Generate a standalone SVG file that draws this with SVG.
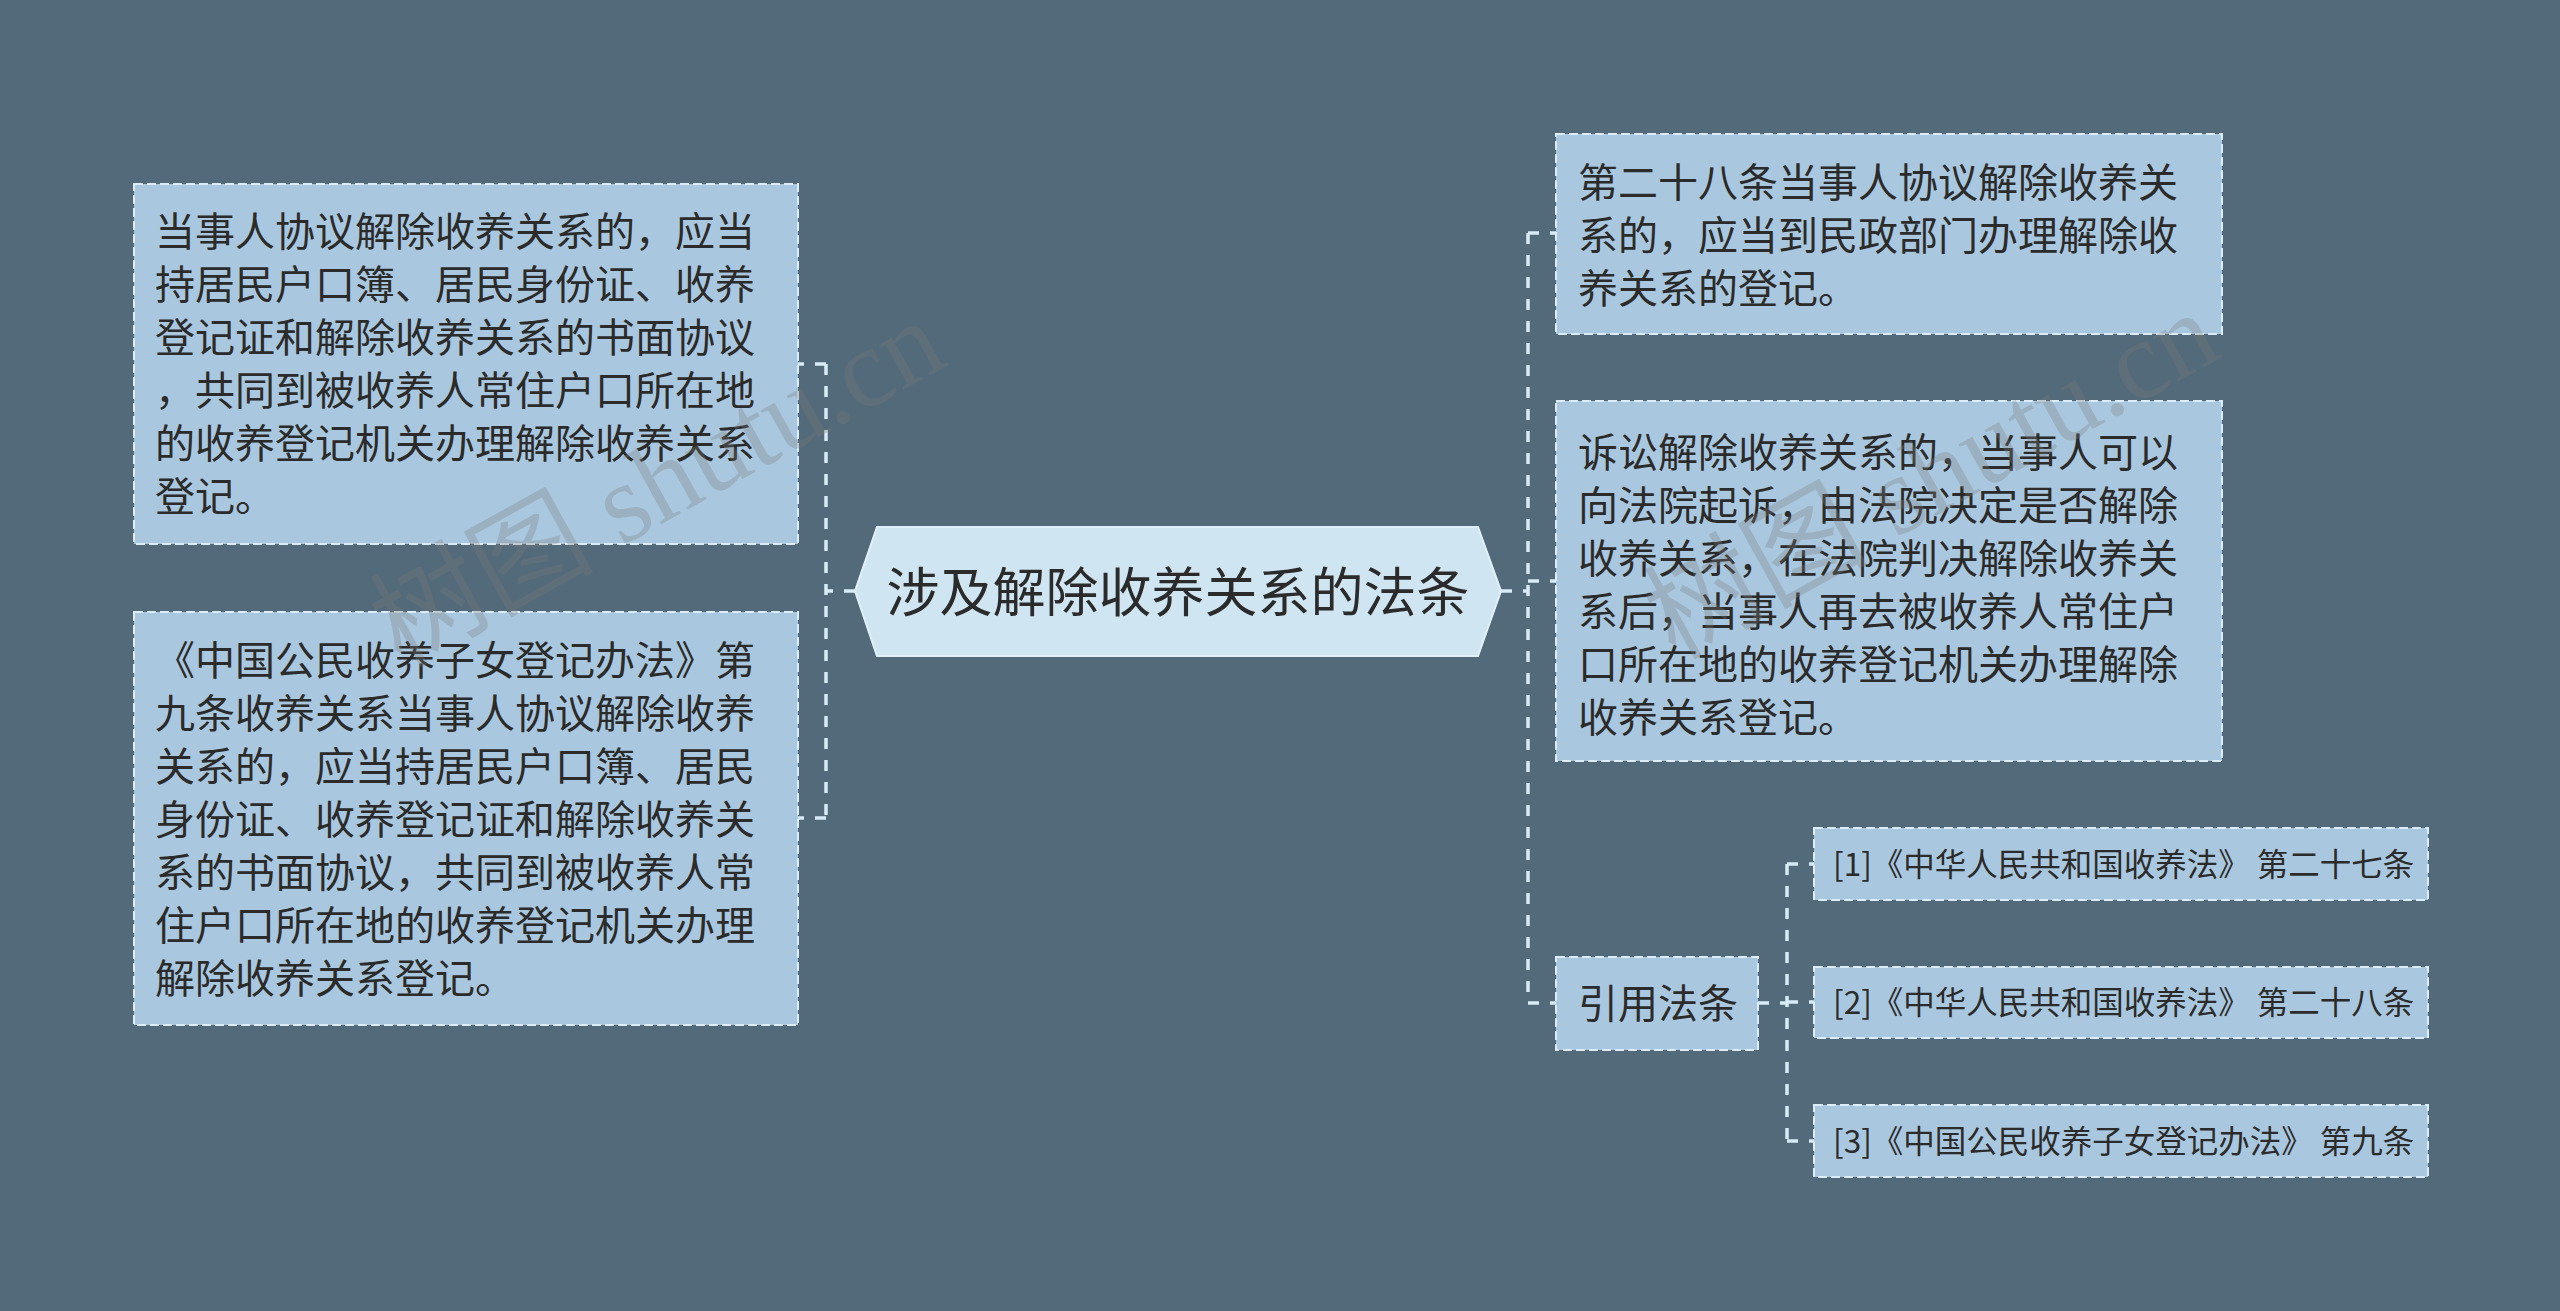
<svg xmlns="http://www.w3.org/2000/svg" width="2560" height="1311" viewBox="0 0 2560 1311">
<style>
.bg{fill:#536a7a}
.box{fill:#a9c8df;stroke:#dcedf7;stroke-width:2;stroke-dasharray:9 4}
.root{fill:#cfe6f2;stroke:#e0f0f8;stroke-width:2}
.t{font-family:"Noto Sans CJK SC","Noto Sans",sans-serif;fill:#2b2b2b}
.t40{font-size:40px}
.t31{font-size:31.5px}
.conn{fill:none;stroke:#d8ecf7;stroke-width:3.5;stroke-dasharray:11 11}
.wm{font-family:"Liberation Serif","Noto Sans CJK SC",serif;font-size:112px;fill:#7d7d7d;opacity:0.3}
</style>
<rect class="bg" x="0" y="0" width="2560" height="1311"/>

<g id="connectors">
  <path class="conn" d="M855,591 H826"/>
  <path class="conn" d="M826,364 V818"/>
  <path class="conn" d="M826,364 H798"/>
  <path class="conn" d="M826,818 H798"/>
  <path class="conn" d="M1501,591 H1528"/>
  <path class="conn" d="M1528,233 V1003"/>
  <path class="conn" d="M1528,233 H1556"/>
  <path class="conn" d="M1528,581 H1556"/>
  <path class="conn" d="M1528,1003 H1556"/>
  <path class="conn" d="M1758,1003 H1787"/>
  <path class="conn" d="M1787,864 V1141"/>
  <path class="conn" d="M1787,864 H1814"/>
  <path class="conn" d="M1787,1002 H1814"/>
  <path class="conn" d="M1787,1141 H1814"/>
</g>

<g id="root">
  <polygon class="root" points="855,591 877,527 1478,527 1501,591 1478,656 877,656"/>
  <text class="t" x="1178" y="612" font-size="53" text-anchor="middle">涉及解除收养关系的法条</text>
</g>

<g id="left1">
  <rect class="box" x="134" y="184" width="664" height="360"/>
  <text class="t t40" x="155" y="246">
    <tspan x="155">当事人协议解除收养关系的，应当</tspan>
    <tspan x="155" dy="53">持居民户口簿、居民身份证、收养</tspan>
    <tspan x="155" dy="53">登记证和解除收养关系的书面协议</tspan>
    <tspan x="155" dy="53">，共同到被收养人常住户口所在地</tspan>
    <tspan x="155" dy="53">的收养登记机关办理解除收养关系</tspan>
    <tspan x="155" dy="53">登记。</tspan>
  </text>
</g>

<g id="left2">
  <rect class="box" x="134" y="612" width="664" height="413"/>
  <text class="t t40" x="155" y="675">
    <tspan x="155">《中国公民收养子女登记办法》第</tspan>
    <tspan x="155" dy="53">九条收养关系当事人协议解除收养</tspan>
    <tspan x="155" dy="53">关系的，应当持居民户口簿、居民</tspan>
    <tspan x="155" dy="53">身份证、收养登记证和解除收养关</tspan>
    <tspan x="155" dy="53">系的书面协议，共同到被收养人常</tspan>
    <tspan x="155" dy="53">住户口所在地的收养登记机关办理</tspan>
    <tspan x="155" dy="53">解除收养关系登记。</tspan>
  </text>
</g>

<g id="right1">
  <rect class="box" x="1556" y="134" width="666" height="200"/>
  <text class="t t40" x="1578" y="197">
    <tspan x="1578">第二十八条当事人协议解除收养关</tspan>
    <tspan x="1578" dy="53">系的，应当到民政部门办理解除收</tspan>
    <tspan x="1578" dy="53">养关系的登记。</tspan>
  </text>
</g>

<g id="right2">
  <rect class="box" x="1556" y="401" width="666" height="360"/>
  <text class="t t40" x="1578" y="467">
    <tspan x="1578">诉讼解除收养关系的，当事人可以</tspan>
    <tspan x="1578" dy="53">向法院起诉，由法院决定是否解除</tspan>
    <tspan x="1578" dy="53">收养关系，在法院判决解除收养关</tspan>
    <tspan x="1578" dy="53">系后，当事人再去被收养人常住户</tspan>
    <tspan x="1578" dy="53">口所在地的收养登记机关办理解除</tspan>
    <tspan x="1578" dy="53">收养关系登记。</tspan>
  </text>
</g>

<g id="cite">
  <rect class="box" x="1556" y="957" width="202" height="93"/>
  <text class="t t40" x="1578" y="1018">引用法条</text>
</g>

<g id="ref1">
  <rect class="box" x="1814" y="828" width="614" height="72"/>
  <text class="t t31" x="1833" y="876">[1]《中华人民共和国收养法》 第二十七条</text>
</g>
<g id="ref2">
  <rect class="box" x="1814" y="967" width="614" height="71"/>
  <text class="t t31" x="1833" y="1014">[2]《中华人民共和国收养法》 第二十八条</text>
</g>
<g id="ref3">
  <rect class="box" x="1814" y="1105" width="614" height="72"/>
  <text class="t t31" x="1833" y="1153">[3]《中国公民收养子女登记办法》 第九条</text>
</g>

<g id="watermarks">
  <text class="wm" x="661" y="520" text-anchor="middle" transform="rotate(-29 661 490)">树图 shutu.cn</text>
  <text class="wm" x="1935" y="512" text-anchor="middle" transform="rotate(-29 1935 482)">树图 shutu.cn</text>
</g>
</svg>
